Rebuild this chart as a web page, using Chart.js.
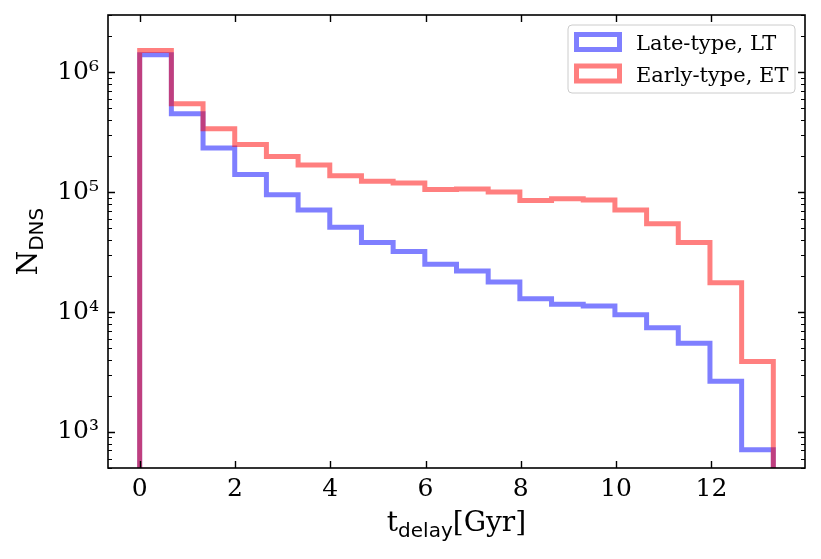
<!DOCTYPE html>
<html>
<head>
<meta charset="utf-8">
<script src="https://cdn.jsdelivr.net/npm/chart.js@4.4.0/dist/chart.umd.min.js"></script>
<style>
  html, body { margin: 0; padding: 0; background: #fff; }
</style>
</head>
<body>
<canvas id="hist" width="821" height="559"></canvas>
<script>
// bin edges in Gyr (20 bins)
const binEdges = [0, 0.665, 1.33, 1.995, 2.66, 3.325, 3.99, 4.655, 5.32, 5.985, 6.65,
  7.315, 7.98, 8.645, 9.31, 9.975, 10.64, 11.305, 11.97, 12.635, 13.3];

// counts per bin
const lateType = [1.40e6, 4.5e5, 2.33e5, 1.40e5, 9.5e4, 7.1e4, 5.1e4, 3.8e4, 3.2e4, 2.5e4,
  2.2e4, 1.78e4, 1.29e4, 1.16e4, 1.12e4, 9.5e3, 7.4e3, 5.5e3, 2.64e3, 7.1e2];
const earlyType = [1.52e6, 5.46e5, 3.38e5, 2.50e5, 1.98e5, 1.68e5, 1.37e5, 1.23e5, 1.19e5, 1.05e5,
  1.06e5, 1.0e5, 8.5e4, 8.8e4, 8.6e4, 7.1e4, 5.45e4, 3.8e4, 1.75e4, 3.86e3];

const seriesLabels = ["Late-type, LT", "Early-type, ET"];
const seriesColors = ["rgba(0,0,255,0.5)", "rgba(255,0,0,0.5)"];

const xTickValues = [0, 2, 4, 6, 8, 10, 12];
const yTickValues = [1e3, 1e4, 1e5, 1e6];
const yTickLabels = ["10³", "10⁴", "10⁵", "10⁶"];

const FLOOR = 1; // below the axis, gets clipped

// with stepped 'after' each point's y covers the bin that ends at its x
function stepPoints(values) {
  const pts = [{ x: binEdges[0], y: FLOOR }];
  values.forEach((v, i) => pts.push({ x: binEdges[i + 1], y: v }));
  pts.push({ x: binEdges[binEdges.length - 1], y: FLOOR });
  return pts;
}

// inward ticks on all four sides + frame
const frameTicks = {
  id: "frameTicks",
  afterDatasetsDraw(chart) {
    const { ctx, chartArea: a, scales } = chart;
    ctx.save();
    ctx.strokeStyle = "#000";

    ctx.lineWidth = 1.4;
    ctx.beginPath();
    xTickValues.forEach(v => {
      const px = Math.round(scales.x.getPixelForValue(v)) + 0.5;
      ctx.moveTo(px, a.bottom); ctx.lineTo(px, a.bottom - 7);
      ctx.moveTo(px, a.top); ctx.lineTo(px, a.top + 7);
    });
    yTickValues.forEach(v => {
      const py = Math.round(scales.y.getPixelForValue(v)) + 0.5;
      ctx.moveTo(a.left, py); ctx.lineTo(a.left + 7, py);
      ctx.moveTo(a.right, py); ctx.lineTo(a.right - 7, py);
    });
    ctx.stroke();

    ctx.lineWidth = 1.1;
    ctx.beginPath();
    for (let d = 2; d <= 6; d++) {
      for (let m = 2; m <= 9; m++) {
        const v = m * Math.pow(10, d);
        if (v < scales.y.min || v > scales.y.max) continue;
        const py = Math.round(scales.y.getPixelForValue(v)) + 0.5;
        ctx.moveTo(a.left, py); ctx.lineTo(a.left + 4, py);
        ctx.moveTo(a.right, py); ctx.lineTo(a.right - 4, py);
      }
    }
    ctx.stroke();

    ctx.lineWidth = 1.6;
    ctx.strokeRect(a.left, a.top, a.right - a.left, a.bottom - a.top);
    ctx.restore();
  }
};

function drawParts(ctx, parts) {
  let w = 0;
  parts.forEach(p => { ctx.font = p.font; p.w = ctx.measureText(p.text).width; w += p.w; });
  let x = -w / 2;
  parts.forEach(p => {
    ctx.font = p.font;
    ctx.fillText(p.text, x, p.dy);
    x += p.w;
  });
}

// legend box and axis titles
const decor = {
  id: "decor",
  afterDraw(chart) {
    const { ctx, chartArea: a } = chart;
    ctx.save();

    // legend
    const bx = a.right - 237, by = a.top + 10, bw = 227, bh = 68;
    ctx.beginPath();
    ctx.roundRect(bx, by, bw, bh, 4);
    ctx.fillStyle = "rgba(255,255,255,0.8)";
    ctx.fill();
    ctx.strokeStyle = "#cccccc";
    ctx.lineWidth = 1;
    ctx.stroke();
    chart.data.datasets.slice().sort((p, q) => p.legendIndex - q.legendIndex).forEach((ds, i) => {
      const ry = by + 9.5 + i * 31.5;
      ctx.strokeStyle = ds.borderColor;
      ctx.lineWidth = 5;
      ctx.lineJoin = "miter";
      ctx.strokeRect(bx + 8.5, ry, 43, 15);
      ctx.fillStyle = "#000";
      ctx.font = "21px 'DejaVu Serif'";
      ctx.textBaseline = "alphabetic";
      ctx.fillText(ds.label, bx + 68, ry + 15.5);
    });

    // axis titles
    ctx.fillStyle = "#000";
    ctx.textBaseline = "alphabetic";
    ctx.save();
    ctx.translate((a.left + a.right) / 2, 531);
    drawParts(ctx, [
      { text: "t", font: "28px 'DejaVu Serif'", dy: 0 },
      { text: "delay", font: "20px 'DejaVu Sans'", dy: 6 },
      { text: "[Gyr]", font: "28px 'DejaVu Serif'", dy: 0 }
    ]);
    ctx.restore();

    ctx.save();
    ctx.translate(37, (a.top + a.bottom) / 2);
    ctx.rotate(-Math.PI / 2);
    drawParts(ctx, [
      { text: "N", font: "28px 'DejaVu Serif'", dy: 0 },
      { text: "DNS", font: "20px 'DejaVu Sans'", dy: 6 }
    ]);
    ctx.restore();

    ctx.restore();
  }
};

new Chart(document.getElementById("hist").getContext("2d"), {
  type: "line",
  data: {
    datasets: [
      {
        label: seriesLabels[0],
        legendIndex: 0,
        data: stepPoints(lateType),
        borderColor: seriesColors[0],
        backgroundColor: "transparent",
        borderWidth: 5,
        stepped: "after",
        pointRadius: 0,
        fill: false,
        clip: 0,
        order: 1,
        borderJoinStyle: "miter"
      },
      {
        label: seriesLabels[1],
        legendIndex: 1,
        data: stepPoints(earlyType),
        borderColor: seriesColors[1],
        backgroundColor: "transparent",
        borderWidth: 5,
        stepped: "after",
        pointRadius: 0,
        fill: false,
        clip: 0,
        order: 0,
        borderJoinStyle: "miter"
      }
    ]
  },
  options: {
    responsive: false,
    animation: false,
    devicePixelRatio: 1,
    layout: { padding: { top: 15, right: 16, left: 0, bottom: 0 } },
    plugins: { legend: { display: false }, tooltip: { enabled: false } },
    scales: {
      x: {
        type: "linear",
        min: -0.665,
        max: 13.965,
        afterBuildTicks: s => { s.ticks = xTickValues.map(v => ({ value: v })); },
        afterFit: s => { s.height = 91; s.paddingLeft = 0; s.paddingRight = 0; },
        grid: { display: false, drawTicks: false },
        border: { display: false },
        ticks: {
          padding: 6,
          color: "#000",
          font: { family: "DejaVu Serif", size: 25 },
          callback: v => String(v)
        }
      },
      y: {
        type: "logarithmic",
        min: 500,
        max: 3e6,
        afterBuildTicks: s => { s.ticks = yTickValues.map(v => ({ value: v })); },
        afterFit: s => { s.width = 108; s.paddingTop = 0; s.paddingBottom = 0; },
        grid: { display: false, drawTicks: false },
        border: { display: false },
        ticks: {
          padding: 9,
          color: "#000",
          font: { family: "DejaVu Serif", size: 25 },
          callback: (v, i) => yTickLabels[i]
        }
      }
    }
  },
  plugins: [frameTicks, decor]
});
</script>
</body>
</html>
